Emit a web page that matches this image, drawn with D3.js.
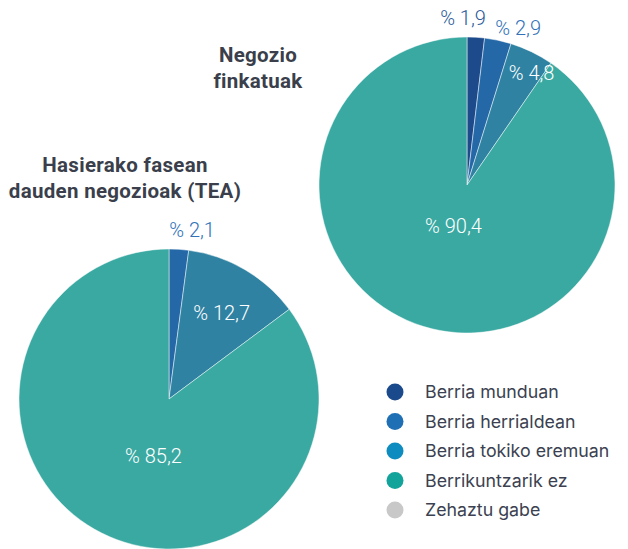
<!DOCTYPE html>
<html>
<head>
<meta charset="utf-8">
<script src="https://cdn.jsdelivr.net/npm/d3@7"></script>
<style>
  body { margin: 0; background: #fff; }
  svg { display: block; }
</style>
</head>
<body>
<div id="chart"></div>
<script>
// Two pies: established businesses vs early-stage (TEA)
const categories = ['Berria munduan', 'Berria herrialdean', 'Berria tokiko eremuan', 'Berrikuntzarik ez', 'Zehaztu gabe'];
const finkatuak = [1.9, 2.9, 4.8, 90.4, 0];
const tea = [0, 2.1, 12.7, 85.2, 0];
const titleFinkatuak = ['Negozio', 'finkatuak'];
const titleTea = ['Hasierako fasean', 'dauden negozioak (TEA)'];

const width = 628, height = 549;

const sliceColors = ['#1d4a8a', '#2468a8', '#2f82a2', '#3aa9a2', '#c8c8c8'];
const legendColors = ['#1b4a8c', '#1f6fb5', '#0f8cbf', '#12a39a', '#c8c8c8'];
const outsideLabelColors = ['#2a5a9a', '#2f72b8', '#2f82a2', '#3aa9a2', '#999'];

const fmt = v => '% ' + d3.format('.1f')(v).replace('.', ',');

const svg = d3.select('#chart').append('svg')
    .attr('width', width)
    .attr('height', height);

const pie = d3.pie().sort(null).value(d => d.value);

// place: per category [angle nudge in degrees, radius factor]
function drawPie(values, cx, cy, r, titleLines, titleX, titleY, place) {
    const data = pie(values.map((v, i) => ({ value: v, i: i }))).filter(d => d.data.value > 0);
    const arc = d3.arc().innerRadius(0).outerRadius(r);
    const g = svg.append('g').attr('transform', `translate(${cx},${cy})`);

    g.selectAll('path')
        .data(data)
        .enter().append('path')
        .attr('d', arc)
        .attr('fill', d => sliceColors[d.data.i])
        .attr('stroke', '#fff')
        .attr('stroke-opacity', 0.6)
        .attr('stroke-width', 0.8);

    g.selectAll('text')
        .data(data)
        .enter().append('text')
        .attr('transform', d => {
            const p = place[d.data.i];
            const a = (d.startAngle + d.endAngle) / 2 + p[0] * Math.PI / 180;
            const rr = r * p[1];
            return `translate(${Math.sin(a) * rr},${-Math.cos(a) * rr})`;
        })
        .attr('text-anchor', 'middle')
        .attr('dy', '0.36em')
        .attr('font-family', 'Roboto, sans-serif')
        .attr('font-weight', 300)
        .attr('font-size', '20px')
        .attr('fill', d => place[d.data.i][1] > 1 ? outsideLabelColors[d.data.i] : '#fff')
        .text(d => fmt(d.data.value));

    svg.append('text')
        .attr('x', titleX)
        .attr('y', titleY)
        .attr('text-anchor', 'middle')
        .attr('font-family', 'Roboto, sans-serif')
        .attr('font-weight', 700)
        .attr('font-size', '20.5px')
        .attr('letter-spacing', '0.3px')
        .attr('fill', '#3a3f4b')
        .selectAll('tspan')
        .data(titleLines)
        .enter().append('tspan')
        .attr('x', titleX)
        .attr('dy', (d, i) => i === 0 ? 0 : 25.5)
        .text(d => d);
}

drawPie(finkatuak, 467, 185, 148, titleFinkatuak, 258, 62,
    [[-4.8, 1.13], [6, 1.115], [4, 0.875], [1, 0.292], [0, 1]]);
drawPie(tea, 169, 399, 150, titleTea, 125, 172,
    [[0, 1.13], [4, 1.137], [1, 0.673], [-11.4, 0.394], [0, 1]]);

// Legend
const legend = svg.append('g').attr('transform', 'translate(395,392)');
const item = legend.selectAll('g')
    .data(categories)
    .enter().append('g')
    .attr('transform', (d, i) => `translate(0,${i * 29.5})`);

item.append('circle')
    .attr('r', 8.5)
    .attr('fill', (d, i) => legendColors[i]);

item.append('text')
    .attr('x', 30)
    .attr('dy', '0.35em')
    .attr('font-family', 'Inter, sans-serif')
    .attr('font-size', '17.8px')
    .attr('fill', '#3b4150')
    .text(d => d);
</script>
</body>
</html>
